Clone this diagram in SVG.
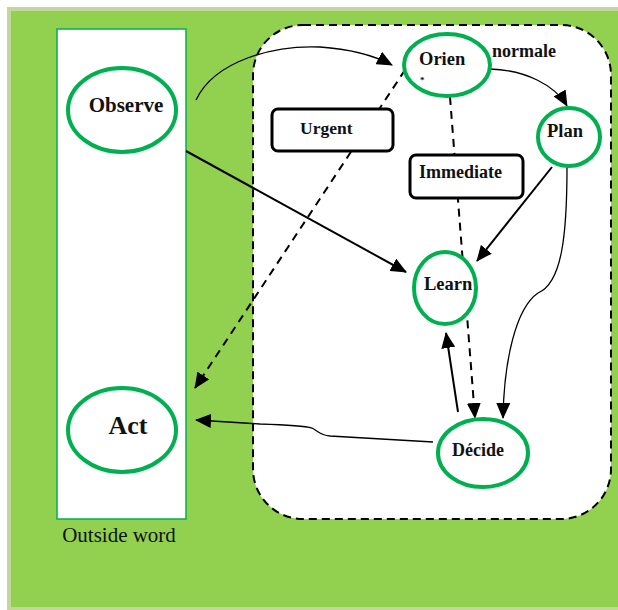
<svg xmlns="http://www.w3.org/2000/svg" width="618" height="610" viewBox="0 0 618 610">
  <style>
    .node { fill: #fff; stroke: #00B050; stroke-width: 4; }
    .lbl { font-family: "Liberation Serif", "Times New Roman", serif; font-weight: bold; fill: #111; }
    .box { fill: #fff; stroke: #000; stroke-width: 3; }
    .solid { fill: none; stroke: #000; stroke-width: 2; }
    .thin { fill: none; stroke: #000; stroke-width: 1.3; }
    .dash { fill: none; stroke: #000; stroke-width: 2; stroke-dasharray: 8 6; }
  </style>
  <defs>
    <marker id="arrow" markerUnits="userSpaceOnUse" markerWidth="16" markerHeight="14" viewBox="0 0 16 14" refX="15" refY="7" orient="auto">
      <path d="M0,0 L16,7 L0,14 Z" fill="#000"/>
    </marker>
  </defs>

  <!-- page background -->
  <rect x="0" y="0" width="618" height="610" fill="#fff"/>
  <rect x="7" y="7" width="611" height="603" fill="#C3D69B"/>
  <rect x="11" y="11" width="607" height="596" fill="#92D050"/>

  <!-- outside world column -->
  <g id="outside">
    <rect x="57" y="29" width="129" height="490" fill="#fff" stroke="#00B050" stroke-width="1.5"/>
    <text x="119" y="542" text-anchor="middle" font-family="'Liberation Serif', 'Times New Roman', serif" font-size="21" fill="#111">Outside word</text>
  </g>

  <!-- inner loop region -->
  <g id="inner">
    <rect x="253" y="25" width="358" height="494" rx="50" ry="50" fill="#fff" stroke="#000" stroke-width="2" stroke-dasharray="8 5"/>
  </g>

  <!-- connectors -->
  <g id="connectors">
    <path class="thin" d="M196,100 C215,60 275,45 320,47 C350,49 375,56 392,65" marker-end="url(#arrow)"/>
    <path class="thin" d="M490,69 C525,70 555,85 567,106" marker-end="url(#arrow)"/>
    <path class="dash" d="M405,70 L195,388" marker-end="url(#arrow)"/>
    <path class="dash" d="M450,97 L475,418" marker-end="url(#arrow)"/>
    <path class="solid" d="M186,151 L406,272" marker-end="url(#arrow)"/>
    <path class="solid" d="M552,167 L477,261" marker-end="url(#arrow)"/>
    <path class="thin" d="M567,167 C567,235 562,283 538,293 C516,308 504,360 503,418" marker-end="url(#arrow)"/>
    <path class="solid" d="M458,412 L446,333" marker-end="url(#arrow)"/>
    <path class="thin" d="M433,442 L330,436 C320,435 318,431 312,428 C305,426 290,425 260,424 L196,420" marker-end="url(#arrow)"/>
  </g>

  <!-- connector labels -->
  <g id="urgent">
    <rect class="box" x="272" y="109" width="121" height="42" rx="6" ry="6"/>
    <text class="lbl" x="300" y="134" font-size="17.5">Urgent</text>
  </g>
  <g id="immediate">
    <rect class="box" x="410" y="155" width="113" height="43" rx="6" ry="6"/>
    <text class="lbl" x="419" y="178" font-size="18">Immediate</text>
  </g>
  <g id="normale">
    <text class="lbl" x="492" y="57" font-size="18">normale</text>
  </g>

  <!-- nodes -->
  <g id="observe">
    <ellipse class="node" cx="122" cy="110" rx="54" ry="42"/>
    <text class="lbl" x="126" y="112" font-size="21" text-anchor="middle">Observe</text>
  </g>
  <g id="act">
    <ellipse class="node" cx="122" cy="430" rx="54" ry="42"/>
    <text class="lbl" x="128" y="434" font-size="26" text-anchor="middle">Act</text>
  </g>
  <g id="orien">
    <ellipse class="node" cx="447" cy="65" rx="43" ry="31"/>
    <text class="lbl" x="419" y="65" font-size="18.5">Orien</text>
    <text class="lbl" x="420" y="83" font-size="9">*</text>
  </g>
  <g id="plan">
    <ellipse class="node" cx="569" cy="137" rx="31" ry="29"/>
    <text class="lbl" x="547" y="137" font-size="18.5">Plan</text>
  </g>
  <g id="learn">
    <ellipse class="node" cx="445" cy="288" rx="31" ry="36"/>
    <text class="lbl" x="424" y="290" font-size="18.5">Learn</text>
  </g>
  <g id="decide">
    <ellipse class="node" cx="483" cy="453" rx="45" ry="34"/>
    <text class="lbl" x="452" y="456" font-size="18">Décide</text>
  </g>
</svg>
